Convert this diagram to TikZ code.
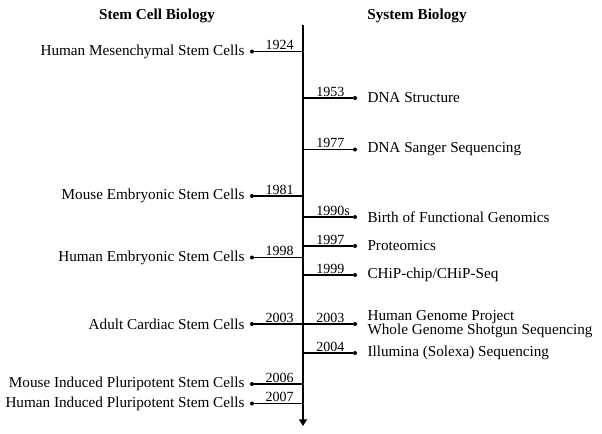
\documentclass[tikz,border=0pt]{standalone}
\usepackage{fontspec}
\setmainfont{Liberation Serif}
\usetikzlibrary{positioning,arrows.meta}

\tikzset{
  dot/.style={circle,fill,inner sep=0pt,minimum size=3pt},
  branch/.style={line width=0.9pt},
  yr/.style={font=\fontsize{10.5}{12}\selectfont,inner sep=0pt},
  evt/.style={font=\fontsize{11.4}{11}\selectfont,inner sep=0pt,align=left},
  head/.style={font=\fontsize{11.4}{13}\selectfont\bfseries,inner sep=0pt}
}

\begin{document}
\begin{tikzpicture}[x=0.75pt,y=-0.75pt]
\useasboundingbox (0,0) rectangle (602,433);
\node[head] (SC) at (157,16) {Stem Cell Biology};
\node[head] (SB) at (417,16) {System Biology};

\coordinate (T) at (303,25);
\coordinate (B) at (303,426);

\foreach \n/\y/\yr/\txt in {1/51.5/1924/Human Mesenchymal Stem Cells,2/196/1981/Mouse Embryonic Stem Cells,3/257.5/1998/Human Embryonic Stem Cells,4/324/2003/Adult Cardiac Stem Cells,5/384/2006/Mouse Induced Pluripotent Stem Cells,6/403.5/2007/Human Induced Pluripotent Stem Cells} {
  \coordinate (LA\n) at (303,\y);
  \node[dot] (LD\n) at (252,\y) {};
  \draw[branch] (LA\n) -- (LD\n);
  \node[yr,anchor=base east] (LY\n) at (294,\y-2) {\yr};
  \node[evt,left=3.75pt of LD\n] (LT\n) {\txt};
}

\foreach \n/\y/\yr/\txt in {1/98/1953/DNA Structure,2/149.5/1977/DNA Sanger Sequencing,3/217/1990s/Birth of Functional Genomics,4/246/1997/Proteomics,5/275/1999/{CHiP-chip/CHiP-Seq},6/324/2003/{Human Genome Project\\Whole Genome Shotgun Sequencing},7/353/2004/Illumina (Solexa) Sequencing} {
  \coordinate (RA\n) at (303,\y);
  \node[dot] (RD\n) at (355,\y) {};
  \draw[branch] (RA\n) -- (RD\n);
  \node[yr,anchor=base west] (RY\n) at (316,\y-2) {\yr};
  \node[evt,right=7.5pt of RD\n] (RT\n) {\txt};
}

\draw[line width=1.5pt,-{Triangle[length=5pt,width=6pt]}] (T) -- (B);
\end{tikzpicture}
\end{document}
